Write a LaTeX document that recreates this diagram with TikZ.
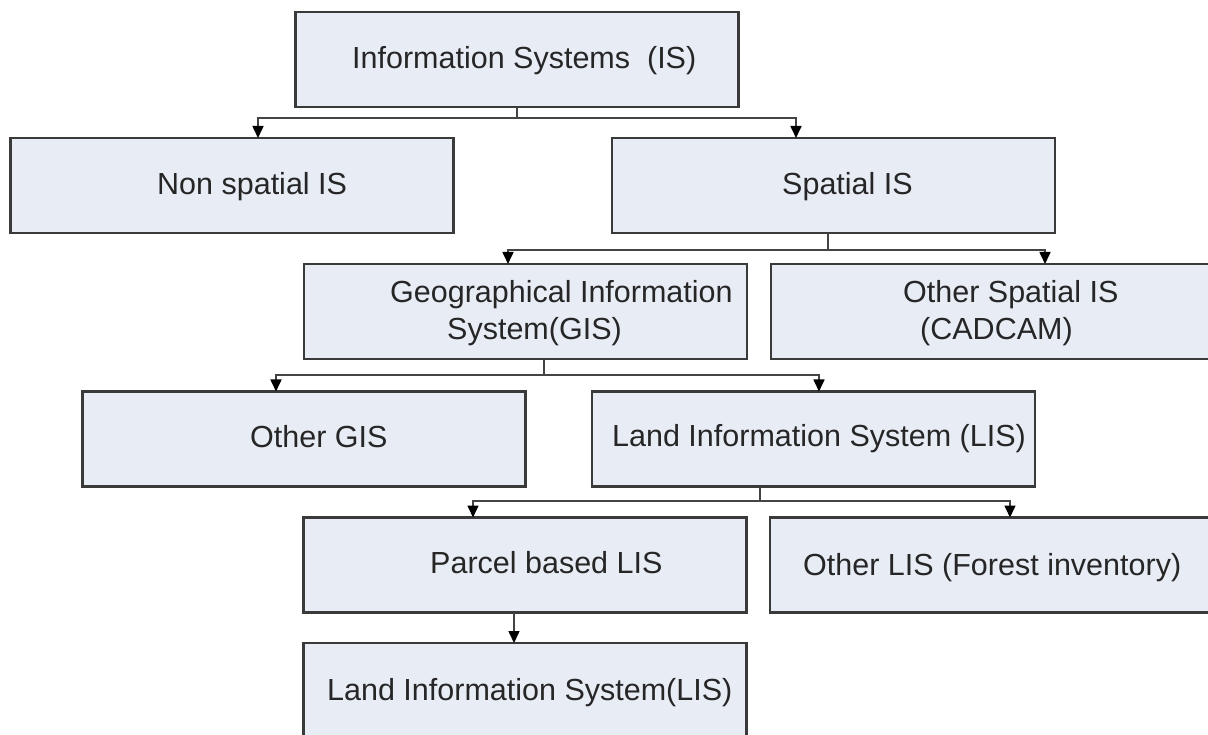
\documentclass[tikz,border=0pt]{standalone}
\usepackage{fontspec}
\setmainfont{Liberation Sans}
\usetikzlibrary{arrows.meta}
\definecolor{boxfill}{HTML}{E8ECF5}
\definecolor{boxline}{HTML}{3A3A3A}
\definecolor{connline}{HTML}{444444}
\definecolor{txt}{HTML}{262626}
\begin{document}
\begin{tikzpicture}[x=1pt,y=-1pt,
  box/.style={draw=boxline,line width=2.2pt,fill=boxfill,minimum width=443pt,minimum height=95pt,inner sep=0pt,outer sep=0pt},
  lbl/.style={inner sep=0pt,anchor=base west,font=\fontsize{30.5}{37}\selectfont,text=txt},
  conn/.style={draw=connline,line width=1.6pt},
  arr/.style={conn,-{Triangle[length=12pt,width=11pt,color=black]}}]
\clip (0,0) rectangle (1208,735);
\fill[white] (0,0) rectangle (1208,735);
% boxes
\node[box] (is)    at (517,59.5)   {};
\node[box] (nonsp) at (232,185.5)  {};
\node[box] (sp)    at (833.5,185.5){};
\node[box] (gis)   at (525.5,311.5){};
\node[box] (osp)   at (992.5,311.5){};
\node[box] (ogis)  at (304,439)    {};
\node[box] (lis)   at (813.5,439)  {};
\node[box] (par)   at (525,565)    {};
\node[box] (olis)  at (991.5,565)  {};
\node[box] (last)  at (525,690.5)  {};
% labels
\node[lbl] (tis)    at (352,69)  {Information Systems\ \ (IS)};
\node[lbl] (tnonsp) at (157,195) {Non spatial IS};
\node[lbl] (tsp)    at (782,195) {Spatial IS};
\node[lbl] (tgisa)  at (390,303) {Geographical Information};
\node[lbl] (tgisb)  at (447,340) {System(GIS)};
\node[lbl] (tospa)  at (903,303) {Other Spatial IS};
\node[lbl] (tospb)  at (920,340) {(CADCAM)};
\node[lbl] (togis)  at (250,447) {Other GIS};
\node[lbl] (tlis)   at (612,446) {Land Information System (LIS)};
\node[lbl] (tpar)   at (430,573) {Parcel based LIS};
\node[lbl] (tolis)  at (803,575) {Other LIS (Forest inventory)};
\node[lbl] (tlast)  at (327,700) {Land Information System(LIS)};
% connectors
\coordinate (j1) at (517,118);
\draw[conn] (is.south) -- (j1);
\draw[arr] (j1) -| (258,0 |- nonsp.north);
\draw[arr] (j1) -| (796,0 |- sp.north);
\coordinate (j2) at (828,250);
\draw[conn] (828,0 |- sp.south) -- (j2);
\draw[arr] (j2) -| (508,0 |- gis.north);
\draw[arr] (j2) -| (1045,0 |- osp.north);
\coordinate (j3) at (544,375);
\draw[conn] (544,0 |- gis.south) -- (j3);
\draw[arr] (j3) -| (276,0 |- ogis.north);
\draw[arr] (j3) -| (819,0 |- lis.north);
\coordinate (j4) at (760,501);
\draw[conn] (760,0 |- lis.south) -- (j4);
\draw[arr] (j4) -| (473,0 |- par.north);
\draw[arr] (j4) -| (1010,0 |- olis.north);
\draw[arr] (514,0 |- par.south) -- (514,0 |- last.north);
\end{tikzpicture}
\end{document}
